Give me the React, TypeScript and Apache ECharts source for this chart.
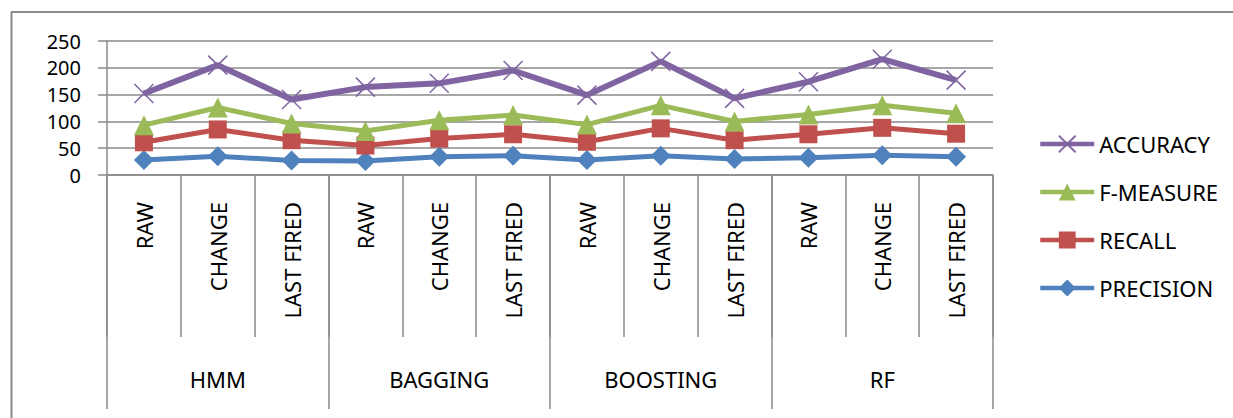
import React, { useEffect, useRef } from "react";
import * as echarts from "echarts";

const categories = [
  "RAW", "CHANGE", "LAST FIRED",
  "RAW", "CHANGE", "LAST FIRED",
  "RAW", "CHANGE", "LAST FIRED",
  "RAW", "CHANGE", "LAST FIRED",
];
const groups = ["HMM", "BAGGING", "BOOSTING", "RF"];
const yTicks = { min: 0, max: 250, interval: 50 };

const accuracy = [152, 205, 141, 164, 171, 195, 149, 212, 143, 174, 216, 177];
const fMeasure = [93, 126, 96, 82, 102, 112, 94, 130, 100, 113, 130, 115];
const recall = [61, 85, 65, 55, 68, 76, 62, 87, 65, 76, 88, 77];
const precision = [28, 35, 27, 26, 34, 36, 28, 36, 30, 32, 37, 34];

const legendOrder = ["ACCURACY", "F-MEASURE", "RECALL", "PRECISION"];

const FONT = "'Noto Sans', sans-serif";
const GRAY = "#8a8a8a";
const X_SYMBOL = "path://M0,0L10,10M10,0L0,10";

export default function App() {
  const ref = useRef<HTMLDivElement>(null);

  useEffect(() => {
    if (!ref.current) return;
    const chart = echarts.init(ref.current, undefined, { renderer: "svg" });
    chart.setOption({
      animation: false,
      backgroundColor: "#ffffff",
      textStyle: { fontFamily: FONT },
      grid: { left: 107, right: 240, top: 41, bottom: 243, containLabel: false },
      legend: {
        orient: "vertical",
        left: 1033,
        top: 127,
        itemWidth: 54,
        itemHeight: 21,
        itemGap: 24,
        lineStyle: { width: 4.5 },
        textStyle: { fontSize: 22, color: "#000", fontFamily: FONT, lineHeight: 24 },
        data: legendOrder,
      },
      xAxis: [
        {
          type: "category",
          position: "bottom",
          data: categories,
          boundaryGap: true,
          axisLine: { show: true, lineStyle: { color: GRAY, width: 1.5 } },
          axisTick: { show: true, length: 162, interval: 0, lineStyle: { color: GRAY, width: 1.5 } },
          axisLabel: {
            interval: 0,
            rotate: 90,
            margin: 27,
            fontSize: 22,
            color: "#000",
            fontFamily: FONT,
          },
        },
        {
          type: "category",
          position: "bottom",
          data: groups,
          boundaryGap: true,
          axisLine: { show: false },
          axisTick: { show: true, length: 234, interval: 0, lineStyle: { color: GRAY, width: 1.5 } },
          axisLabel: {
            interval: 0,
            margin: 204,
            verticalAlign: "middle",
            fontSize: 22,
            color: "#000",
            fontFamily: FONT,
          },
          splitLine: { show: false },
        },
      ],
      yAxis: {
        type: "value",
        min: yTicks.min,
        max: yTicks.max,
        interval: yTicks.interval,
        axisLine: { show: true, lineStyle: { color: GRAY, width: 1.5 } },
        axisTick: { show: true, length: 9, lineStyle: { color: GRAY, width: 1.5 } },
        splitLine: { show: true, lineStyle: { color: GRAY, width: 1.5 } },
        axisLabel: { margin: 26, fontSize: 20, lineHeight: 20, color: "#000", fontFamily: FONT },
      },
      series: [
        {
          name: "PRECISION",
          type: "line",
          data: precision,
          color: "#4F81BD",
          symbol: "diamond",
          symbolSize: 20,
          lineStyle: { width: 5, color: "#4F81BD" },
          itemStyle: { color: "#4F81BD" },
        },
        {
          name: "RECALL",
          type: "line",
          data: recall,
          color: "#C0504D",
          symbol: "rect",
          symbolSize: 18,
          lineStyle: { width: 5, color: "#C0504D" },
          itemStyle: { color: "#C0504D" },
        },
        {
          name: "F-MEASURE",
          type: "line",
          data: fMeasure,
          color: "#9BBB59",
          symbol: "triangle",
          symbolSize: 20,
          lineStyle: { width: 5, color: "#9BBB59" },
          itemStyle: { color: "#9BBB59" },
        },
        {
          name: "ACCURACY",
          type: "line",
          data: accuracy,
          color: "#8064A2",
          symbol: X_SYMBOL,
          symbolSize: 19,
          lineStyle: { width: 6, color: "#8064A2" },
          itemStyle: { color: "#8064A2", borderColor: "#8064A2", borderWidth: 1.5 },
        },
      ],
      graphic: [
        {
          type: "line",
          shape: { x1: 11.5, y1: 12, x2: 11.5, y2: 418 },
          style: { stroke: GRAY, lineWidth: 2 },
        },
        {
          type: "line",
          shape: { x1: 11, y1: 12, x2: 1233, y2: 12 },
          style: { stroke: GRAY, lineWidth: 2 },
        },
      ],
    });
    return () => chart.dispose();
  }, []);

  return (
    <div
      ref={ref}
      style={{ position: "fixed", left: 0, top: 0, width: 1233, height: 418 }}
    />
  );
}
